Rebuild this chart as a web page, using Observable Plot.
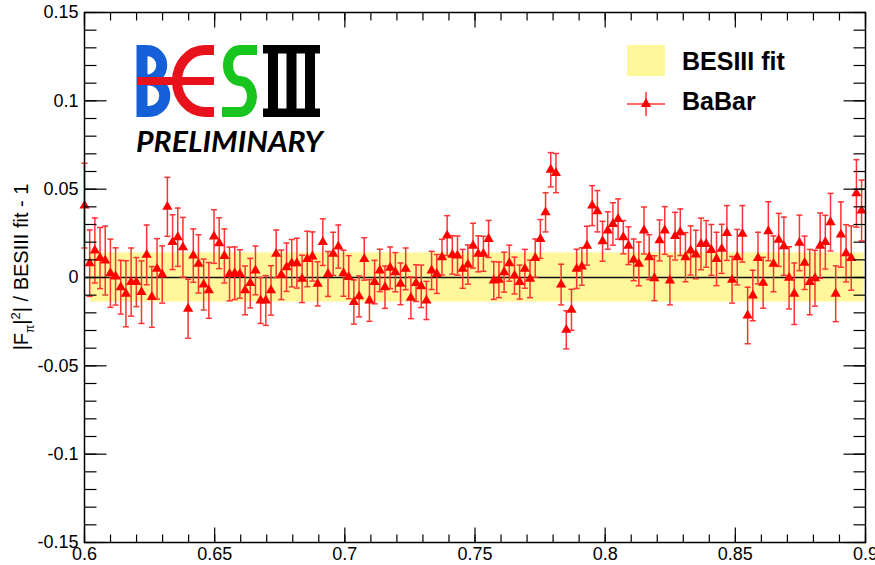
<!DOCTYPE html>
<html><head><meta charset="utf-8">
<script src="https://cdn.jsdelivr.net/npm/d3@7"></script>
<script src="https://cdn.jsdelivr.net/npm/@observablehq/plot@0.6"></script>
<style>body{margin:0;background:#fff;} svg{display:block;}</style>
</head><body><div id="chart"></div>
<script>
// BaBar points: mass (GeV), ratio |F_pi|^2 / BESIII fit - 1, error
const massGeV = [
0.60000,0.60199,0.60398,0.60597,0.60796,0.60995,0.61194,0.61393,0.61592,0.61791,
0.61990,0.62189,0.62388,0.62587,0.62786,0.62985,0.63184,0.63383,0.63582,0.63781,
0.63980,0.64179,0.64378,0.64577,0.64776,0.64975,0.65174,0.65373,0.65572,0.65771,
0.65970,0.66169,0.66368,0.66567,0.66766,0.66965,0.67164,0.67363,0.67562,0.67761,
0.67960,0.68159,0.68358,0.68557,0.68756,0.68955,0.69154,0.69353,0.69552,0.69751,
0.69950,0.70149,0.70348,0.70547,0.70746,0.70945,0.71144,0.71343,0.71542,0.71741,
0.71940,0.72139,0.72338,0.72537,0.72736,0.72935,0.73134,0.73333,0.73532,0.73731,
0.73930,0.74129,0.74328,0.74527,0.74726,0.74925,0.75124,0.75323,0.75522,0.75721,
0.75920,0.76119,0.76318,0.76517,0.76716,0.76915,0.77114,0.77313,0.77512,0.77711,
0.77910,0.78109,0.78308,0.78507,0.78706,0.78905,0.79104,0.79303,0.79502,0.79701,
0.79900,0.80099,0.80298,0.80497,0.80696,0.80895,0.81094,0.81293,0.81492,0.81691,
0.81890,0.82089,0.82288,0.82487,0.82686,0.82885,0.83084,0.83283,0.83482,0.83681,
0.83880,0.84079,0.84278,0.84477,0.84676,0.84875,0.85074,0.85273,0.85472,0.85671,
0.85870,0.86069,0.86268,0.86467,0.86666,0.86865,0.87064,0.87263,0.87462,0.87661,
0.87860,0.88059,0.88258,0.88457,0.88656,0.88855,0.89054,0.89253,0.89452,0.89651,
0.89850];
const ratio = [
0.0407,0.0081,0.0153,0.0110,0.0096,0.0024,0.0006,-0.0055,-0.0092,-0.0026,
-0.0026,-0.0083,0.0128,-0.0110,0.0049,0.0017,0.0400,0.0200,0.0228,0.0171,
-0.0177,0.0124,0.0077,-0.0040,-0.0073,0.0232,0.0194,0.0122,0.0020,0.0024,
0.0020,-0.0073,-0.0032,0.0040,-0.0130,-0.0130,-0.0073,0.0134,0.0015,0.0058,
0.0081,0.0081,-0.0008,0.0105,0.0119,-0.0036,0.0200,0.0020,0.0134,0.0175,
0.0024,0.0002,-0.0139,-0.0107,0.0105,-0.0130,-0.0026,0.0040,-0.0055,0.0055,
0.0030,-0.0036,0.0049,-0.0115,-0.0032,-0.0050,-0.0130,0.0040,0.0020,0.0115,
0.0237,0.0128,0.0124,0.0049,0.0073,0.0180,0.0134,0.0134,0.0218,-0.0017,
-0.0013,0.0030,0.0081,0.0011,-0.0026,0.0049,-0.0008,0.0110,0.0218,0.0369,
0.0610,0.0591,-0.0040,-0.0296,-0.0183,0.0049,0.0062,0.0180,0.0407,0.0375,
0.0205,0.0266,0.0303,0.0331,0.0228,0.0180,0.0100,0.0077,0.0266,0.0115,
-0.0004,0.0210,0.0266,-0.0017,0.0234,0.0256,0.0115,0.0153,0.0130,0.0190,
0.0190,0.0156,0.0105,0.0162,0.0252,-0.0013,0.0115,0.0247,-0.0215,-0.0102,
0.0110,-0.0030,0.0262,0.0077,0.0213,0.0177,-0.0002,-0.0092,0.0196,0.0083,
-0.0026,-0.0004,0.0180,0.0200,0.0313,-0.0092,0.0243,0.0137,0.0110,0.0476,
0.0379];
const ratioErr = [
0.0240,0.0188,0.0184,0.0173,0.0195,0.0193,0.0162,0.0152,0.0187,0.0193,
0.0139,0.0177,0.0169,0.0172,0.0171,0.0162,0.0167,0.0155,0.0165,0.0169,
0.0167,0.0151,0.0165,0.0144,0.0158,0.0152,0.0144,0.0153,0.0152,0.0149,
0.0137,0.0138,0.0140,0.0138,0.0130,0.0141,0.0140,0.0135,0.0140,0.0137,
0.0134,0.0141,0.0134,0.0157,0.0139,0.0125,0.0132,0.0127,0.0122,0.0122,
0.0130,0.0122,0.0125,0.0116,0.0120,0.0118,0.0123,0.0120,0.0120,0.0118,
0.0111,0.0118,0.0118,0.0118,0.0104,0.0120,0.0108,0.0108,0.0110,0.0101,
0.0113,0.0109,0.0111,0.0110,0.0111,0.0127,0.0102,0.0099,0.0105,0.0107,
0.0101,0.0113,0.0102,0.0104,0.0096,0.0110,0.0106,0.0108,0.0110,0.0111,
0.0097,0.0111,0.0115,0.0108,0.0116,0.0111,0.0106,0.0110,0.0113,0.0117,
0.0113,0.0106,0.0120,0.0114,0.0094,0.0107,0.0118,0.0124,0.0133,0.0127,
0.0127,0.0116,0.0135,0.0138,0.0135,0.0132,0.0139,0.0139,0.0137,0.0146,
0.0132,0.0144,0.0151,0.0139,0.0155,0.0132,0.0157,0.0160,0.0160,0.0143,
0.0146,0.0144,0.0167,0.0158,0.0150,0.0165,0.0176,0.0174,0.0157,0.0151,
0.0185,0.0158,0.0185,0.0152,0.0163,0.0158,0.0185,0.0162,0.0182,0.0191,
0.0172];

// BESIII fit uncertainty band
const bandRange = [0.6023, 0.8995];
const bandHalfWidth = 0.0139;

// axes
const xTickLabels = [0.6, 0.65, 0.7, 0.75, 0.8, 0.85, 0.9];
const yTickLabels = [-0.15, -0.1, -0.05, 0, 0.05, 0.1, 0.15];
const legendLabels = ["BESIII fit", "BaBar"];

const data = massGeV.map((x, i) => ({x, y: ratio[i], e: ratioErr[i]}));
const band = [{x1: bandRange[0], x2: bandRange[1], y1: -bandHalfWidth, y2: bandHalfWidth}];
const xMinor = d3.ticks(0.6, 0.9, 30);
const yMinor = d3.ticks(-0.15, 0.15, 30);

function seg(x1, y1, x2, y2) { return {draw(ctx) { ctx.moveTo(x1, y1); ctx.lineTo(x2, y2); }}; }
const cap = seg(-3, 0, 3, 0);
const RED = "#ff0000", BAR = "#ff3333", YEL = "#fff799";
const FONT = "'Liberation Sans', Arial, Helvetica, sans-serif";
const tickStyle = {stroke: "#000", strokeWidth: 1.2, fill: "none"};

const plot = Plot.plot({
  width: 875, height: 565,
  marginLeft: 84, marginRight: 10, marginTop: 12, marginBottom: 23,
  x: {domain: [0.6, 0.9], axis: null},
  y: {domain: [-0.15, 0.15], axis: null},
  style: {background: "#fff", fontFamily: FONT, overflow: "visible"},
  marks: [
    Plot.rect(band, {x1: "x1", x2: "x2", y1: "y1", y2: "y2", fill: YEL}),
    Plot.ruleY([0], {stroke: "#111", strokeWidth: 1.4}),
    Plot.ruleX(data, {x: "x", y1: d => d.y - d.e, y2: d => d.y + d.e, stroke: BAR, strokeWidth: 1.5}),
    Plot.dot(data, {x: "x", y: d => d.y + d.e, symbol: cap, stroke: BAR, strokeWidth: 1.5, fill: "none"}),
    Plot.dot(data, {x: "x", y: d => d.y - d.e, symbol: cap, stroke: BAR, strokeWidth: 1.5, fill: "none"}),
    Plot.dot(data, {x: "x", y: "y", symbol: "triangle", r: 3.8, fill: RED, stroke: "none"}),
    Plot.frame({stroke: "#000", strokeWidth: 1.5}),
    // ROOT-style inward ticks
    Plot.dot(yTickLabels, {y: d => d, frameAnchor: "left", symbol: seg(0, 0, 22, 0), ...tickStyle}),
    Plot.dot(yMinor, {y: d => d, frameAnchor: "left", symbol: seg(0, 0, 12, 0), ...tickStyle}),
    Plot.dot(yTickLabels, {y: d => d, frameAnchor: "right", symbol: seg(0, 0, -22, 0), ...tickStyle}),
    Plot.dot(yMinor, {y: d => d, frameAnchor: "right", symbol: seg(0, 0, -12, 0), ...tickStyle}),
    Plot.dot(xTickLabels, {x: d => d, frameAnchor: "bottom", symbol: seg(0, 0, 0, -15), ...tickStyle}),
    Plot.dot(xMinor, {x: d => d, frameAnchor: "bottom", symbol: seg(0, 0, 0, -8), ...tickStyle}),
    Plot.dot(xTickLabels, {x: d => d, frameAnchor: "top", symbol: seg(0, 0, 0, 15), ...tickStyle}),
    Plot.dot(xMinor, {x: d => d, frameAnchor: "top", symbol: seg(0, 0, 0, 8), ...tickStyle}),
    // tick labels
    Plot.text(yTickLabels, {y: d => d, frameAnchor: "left", textAnchor: "end", dx: -6, text: d => String(d), fontSize: 18, fill: "#000"}),
    Plot.text(xTickLabels, {x: d => d, frameAnchor: "bottom", lineAnchor: "top", dy: 5, text: d => String(d), fontSize: 18, fill: "#000"})
  ]
});
document.getElementById("chart").appendChild(plot);

const svg = d3.select(plot);
// y-axis title
const t = svg.append("text")
  .attr("transform", "translate(28,267) rotate(-90)")
  .attr("text-anchor", "middle").attr("font-size", 20).attr("font-family", FONT).attr("fill", "#000");
t.append("tspan").text("|F");
t.append("tspan").attr("font-size", 12).attr("dy", 6).text("π");
t.append("tspan").attr("dy", -6).text("|");
t.append("tspan").attr("font-size", 13).attr("dy", -8).text("2");
t.append("tspan").attr("dy", 8).text("| / BESIII fit - 1");

// legend
const lg = svg.append("g").attr("font-family", FONT).attr("font-weight", "bold").attr("font-size", 25).attr("text-anchor", "start");
lg.append("rect").attr("x", 627).attr("y", 45).attr("width", 38).attr("height", 31).attr("fill", YEL);
lg.append("text").attr("x", 682).attr("y", 70).text(legendLabels[0]);
lg.append("line").attr("x1", 627).attr("x2", 665).attr("y1", 104).attr("y2", 104).attr("stroke", BAR).attr("stroke-width", 1.5);
lg.append("line").attr("x1", 646).attr("x2", 646).attr("y1", 92).attr("y2", 116).attr("stroke", BAR).attr("stroke-width", 1.5);
lg.append("path").attr("d", d3.symbol(d3.symbolTriangle, 3.8 * 3.8 * Math.PI)()).attr("transform", "translate(646,104)").attr("fill", RED);
lg.append("text").attr("x", 682).attr("y", 110).text(legendLabels[1]);

// BESIII logo
const logo = svg.append("g").attr("fill", "none");
logo.append("path").attr("d", "M142,45 V117 M142,50.5 H147 A14.75,14.75 0 0 1 147,80 H142 M142,80 H149 A15.75,15.75 0 0 1 149,111.5 H142")
  .attr("stroke", "#1560d8").attr("stroke-width", 11);
logo.append("path").attr("d", "M214,50 H205 A28,31 0 0 0 205,112 H214").attr("stroke", "#e8121c").attr("stroke-width", 10);
logo.append("path").attr("d", "M137,81 H214").attr("stroke", "#e8121c").attr("stroke-width", 8);
logo.append("path").attr("d", "M257,50 H240 A12,15.5 0 0 0 240,81 A12,15.5 0 0 1 240,112 H222").attr("stroke", "#18c41e").attr("stroke-width", 10);
const iii = logo.append("g").attr("fill", "#000");
iii.append("rect").attr("x", 263).attr("y", 45).attr("width", 57).attr("height", 8.5);
iii.append("rect").attr("x", 263).attr("y", 108.5).attr("width", 57).attr("height", 8.5);
[268, 286.5, 305].forEach(x => iii.append("rect").attr("x", x).attr("y", 45).attr("width", 10).attr("height", 72));
svg.append("text").attr("x", 136).attr("y", 152).attr("text-anchor", "start").attr("font-family", "Lato, 'Open Sans', sans-serif")
  .attr("font-weight", "bold").attr("font-style", "italic").attr("font-size", 29)
  .attr("textLength", 187).attr("lengthAdjust", "spacingAndGlyphs").attr("fill", "#000").text("PRELIMINARY");
</script>
</body></html>
